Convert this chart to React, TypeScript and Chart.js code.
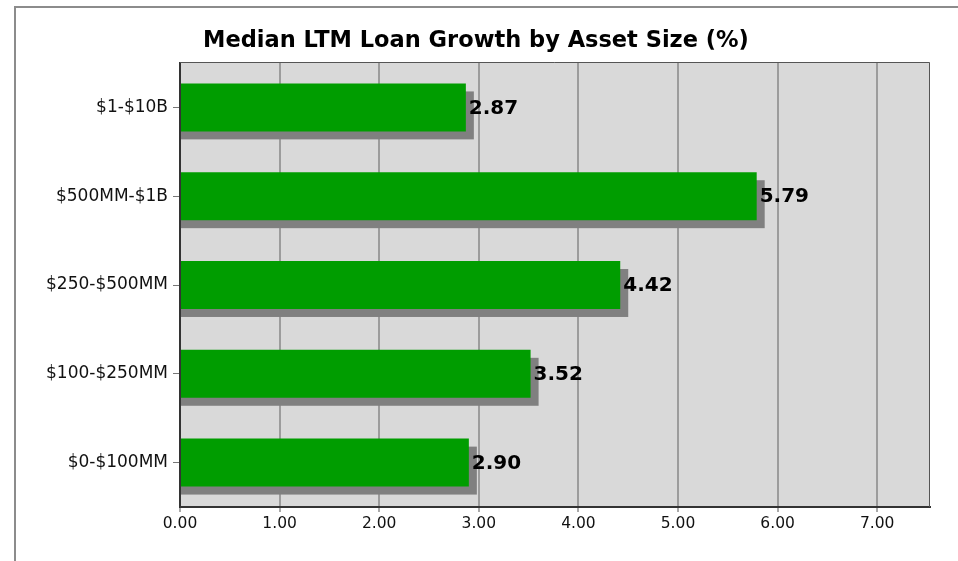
import React, { useEffect, useRef } from "react";
import { Chart, registerables } from "chart.js";

Chart.register(...registerables);

const TITLE = "Median LTM Loan Growth by Asset Size (%)";
const categories = ["$1-$10B", "$500MM-$1B", "$250-$500MM", "$100-$250MM", "$0-$100MM"];
const values = [2.87, 5.79, 4.42, 3.52, 2.9];
const xTicks = [0, 1, 2, 3, 4, 5, 6, 7];
const X_MAX = 7.53;

const FONT = "'DejaVu Sans', Verdana, sans-serif";

const decorPlugin = {
  id: "decor",
  beforeDraw(chart: any) {
    const { ctx, chartArea: a, width } = chart;
    ctx.save();
    ctx.fillStyle = "#ffffff";
    ctx.fillRect(0, 0, chart.width, chart.height);
    // outer frame
    ctx.strokeStyle = "#8c8c8c";
    ctx.lineWidth = 2;
    ctx.beginPath();
    ctx.moveTo(15, chart.height + 2);
    ctx.lineTo(15, 7);
    ctx.lineTo(width + 2, 7);
    ctx.stroke();
    // plot background
    ctx.fillStyle = "#d9d9d9";
    ctx.fillRect(a.left, a.top - 1, a.right - a.left, a.bottom - a.top + 1);
    // title
    ctx.fillStyle = "#000000";
    ctx.font = `bold 22.5px ${FONT}`;
    ctx.textAlign = "center";
    ctx.textBaseline = "middle";
    ctx.fillText(TITLE, 476, 41);
    ctx.restore();
  },
  beforeDatasetsDraw(chart: any) {
    const { ctx } = chart;
    const meta = chart.getDatasetMeta(0);
    ctx.save();
    ctx.fillStyle = "#808080";
    meta.data.forEach((bar: any) => {
      const h = bar.height;
      ctx.fillRect(bar.base, bar.y - h / 2 + 8, bar.x + 8 - bar.base, h);
    });
    ctx.restore();
  },
  afterDatasetsDraw(chart: any) {
    const { ctx } = chart;
    const meta = chart.getDatasetMeta(0);
    ctx.save();
    ctx.fillStyle = "#000000";
    ctx.font = `bold 20px ${FONT}`;
    ctx.textAlign = "left";
    ctx.textBaseline = "middle";
    meta.data.forEach((bar: any, i: number) => {
      ctx.fillText(values[i].toFixed(2), bar.x + 3, bar.y + 1);
    });
    ctx.restore();
  },
  afterDraw(chart: any) {
    const { ctx, chartArea: a } = chart;
    ctx.save();
    ctx.strokeStyle = "#555555";
    ctx.lineWidth = 1;
    ctx.beginPath();
    ctx.moveTo(a.left, a.top - 0.5);
    ctx.lineTo(a.right - 0.5, a.top - 0.5);
    ctx.lineTo(a.right - 0.5, a.bottom);
    ctx.stroke();
    ctx.restore();
  },
};

export default function App() {
  const ref = useRef<HTMLCanvasElement>(null);
  useEffect(() => {
    if (!ref.current) return;
    const chart = new Chart(ref.current, {
      type: "bar",
      data: {
        labels: categories,
        datasets: [
          {
            data: values,
            backgroundColor: "#009d00",
            borderWidth: 0,
            barPercentage: 0.54,
            categoryPercentage: 1,
          },
        ],
      },
      options: {
        indexAxis: "y",
        animation: false,
        responsive: false,
        maintainAspectRatio: false,
        layout: { padding: { left: 0, top: 63, right: 28, bottom: 0 } },
        plugins: {
          legend: { display: false },
          title: { display: false },
          tooltip: { enabled: false },
        },
        scales: {
          x: {
            type: "linear",
            min: 0,
            max: X_MAX,
            afterBuildTicks(scale: any) {
              scale.ticks = xTicks.map((v) => ({ value: v }));
            },
            afterFit(scale: any) {
              scale.height = 54;
            },
            ticks: {
              color: "#111111",
              font: { family: FONT, size: 15.5 },
              padding: 3,
              maxRotation: 0,
              callback: (v: any) => Number(v).toFixed(2),
            },
            grid: {
              color: "#9c9c9c",
              lineWidth: 2,
              tickLength: 5,
              tickColor: "#555555",
              tickWidth: 1,
            },
            border: { color: "#333333", width: 2 },
          },
          y: {
            afterFit(scale: any) {
              scale.width = 180;
            },
            ticks: {
              color: "#111111",
              font: { family: FONT, size: 17 },
              padding: 5,
            },
            grid: {
              offset: false,
              drawOnChartArea: false,
              tickLength: 7,
              tickColor: "#777777",
              tickWidth: 1,
            },
            border: { color: "#333333", width: 2 },
          },
        },
      },
      plugins: [decorPlugin],
    } as any);
    return () => chart.destroy();
  }, []);
  return (
    <div style={{ position: "absolute", left: 0, top: 0, width: 958, height: 561 }}>
      <canvas ref={ref} width={958} height={561} style={{ display: "block" }} />
    </div>
  );
}
